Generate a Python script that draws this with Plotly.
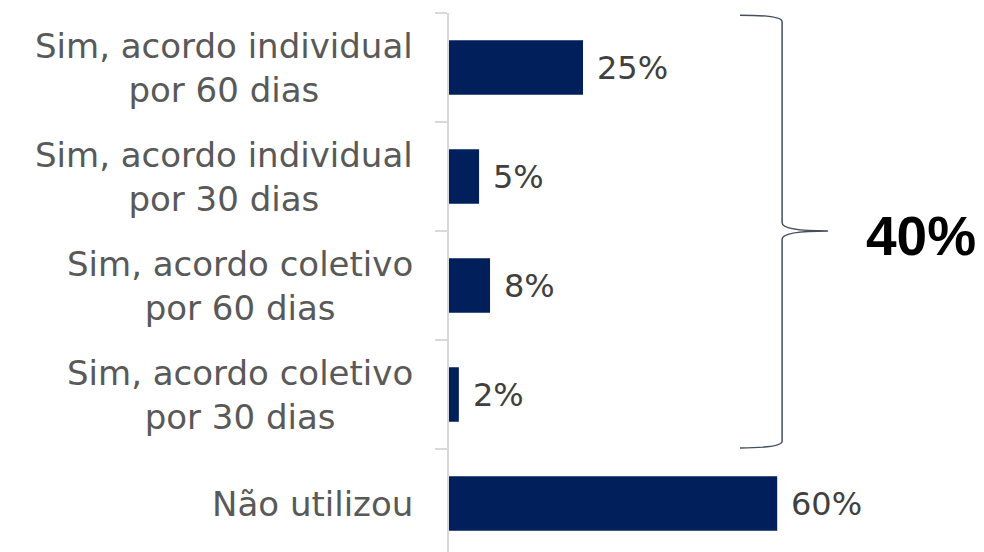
import plotly.graph_objects as go

# ---- data ----
categories = [
    "Sim, acordo individual<br>por 60 dias",
    "Sim, acordo individual<br>por 30 dias",
    "Sim, acordo coletivo<br>por 60 dias",
    "Sim, acordo coletivo<br>por 30 dias",
    "Não utilizou",
]
values = [24.5, 5.5, 7.5, 1.8, 60.0]
value_labels = ["25%", "5%", "8%", "2%", "60%"]
group_total_label = "40%"

# ---- layout constants (page body adds an 8px offset) ----
W, H = 976, 544
M_L, M_T = 441, 5
PX_PER_PCT = 5.47
BAND_PX = 109
plot_w = W - M_L
plot_h = H - M_T
x_max = plot_w / PX_PER_PCT
y_bottom = plot_h / BAND_PX - 0.5

BAR_COLOR = "#001F5B"
LABEL_COLOR = "#595959"
VALUE_COLOR = "#404040"
AXIS_COLOR = "#D9D9D9"
LABEL_FONT = "DejaVu Sans"

ypos = list(range(len(categories)))

fig = go.Figure()
fig.add_trace(go.Bar(
    y=ypos, x=values, orientation="h", width=0.5,
    marker=dict(color=BAR_COLOR, line=dict(width=0)),
    hoverinfo="skip",
))

annotations = []
# value labels
for i, (v, t) in enumerate(zip(values, value_labels)):
    annotations.append(dict(
        x=v, y=i, xref="x", yref="y", text=t, showarrow=False,
        xanchor="left", yanchor="middle", xshift=12,
        font=dict(family=LABEL_FONT, size=32, color=VALUE_COLOR),
    ))
# category labels: right-anchored block, lines centred within it
for i, cat in enumerate(categories):
    annotations.append(dict(
        x=0, y=i, xref="paper", yref="y", text=cat, showarrow=False,
        xanchor="right", yanchor="middle", align="center", xshift=-34,
        font=dict(family=LABEL_FONT, size=34, color=LABEL_COLOR),
    ))

# brace spanning first four categories
bx0, bx1, bx2 = 53.2, 60.9, 69.3
yt, yb, ym = -0.48, 3.49, 1.5
d = 0.06
path = (
    f"M {bx0},{yt} Q {bx1},{yt} {bx1},{yt + d} "
    f"L {bx1},{ym - 0.075} Q {bx1},{ym} {bx2},{ym} "
    f"Q {bx1},{ym} {bx1},{ym + 0.075} "
    f"L {bx1},{yb - d} Q {bx1},{yb} {bx0},{yb}"
)
shapes = [dict(type="path", path=path, xref="x", yref="y",
               line=dict(color="#44505F", width=1.5))]

annotations.append(dict(
    x=86.2, y=1.55, xref="x", yref="y", text="<b>" + group_total_label + "</b>",
    showarrow=False, xanchor="center", yanchor="middle",
    font=dict(family="Liberation Sans Narrow, Liberation Sans, Arial", size=55, color="#000000"),
))

fig.update_layout(
    width=W, height=H,
    margin=dict(l=M_L, r=0, t=M_T, b=0, pad=0),
    paper_bgcolor="white", plot_bgcolor="white",
    showlegend=False,
    annotations=annotations,
    shapes=shapes,
    xaxis=dict(range=[0, x_max], visible=False, fixedrange=True),
    yaxis=dict(
        range=[y_bottom, -0.5],
        tickmode="array",
        tickvals=[k - 0.5 for k in range(len(categories) + 1)],
        showticklabels=False,
        ticks="outside", ticklen=12, tickwidth=2, tickcolor=AXIS_COLOR,
        showline=True, linecolor=AXIS_COLOR, linewidth=2,
        showgrid=False, zeroline=False,
    ),
)

fig.write_html("out.html")
